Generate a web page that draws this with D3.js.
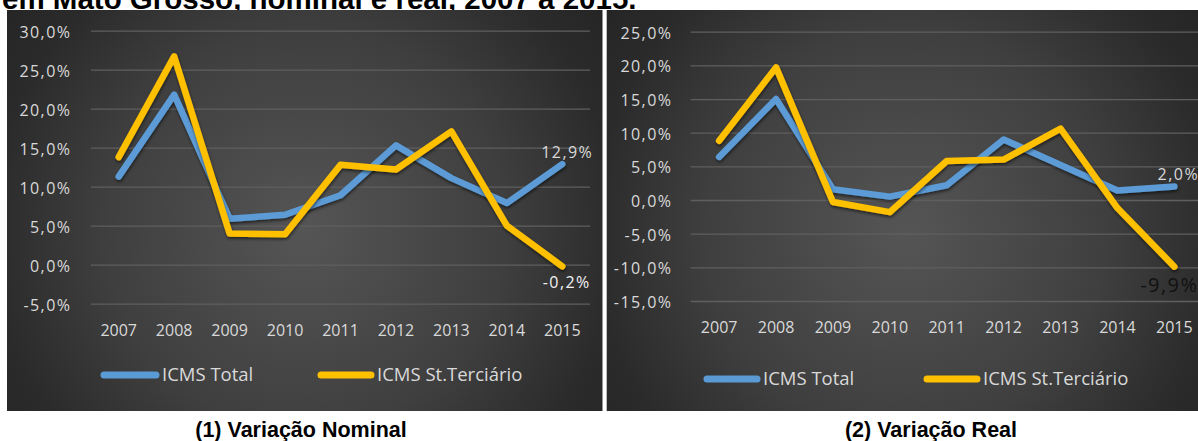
<!DOCTYPE html>
<html>
<head>
<meta charset="utf-8">
<script src="https://cdn.jsdelivr.net/npm/d3@7/dist/d3.min.js"></script>
<style>
  html, body { margin: 0; padding: 0; background: #ffffff; }
  svg { display: block; }
</style>
</head>
<body>
<svg id="chart" width="1198" height="441"></svg>
<script>
// ICMS growth rates (%), Mato Grosso, 2007–2015
const years = ["2007", "2008", "2009", "2010", "2011", "2012", "2013", "2014", "2015"];
const seriesNames = ["ICMS Total", "ICMS St.Terciário"];

const nominalTotal     = [11.3, 21.8, 5.9, 6.4, 8.9, 15.3, 11.1, 7.9, 12.9];
const nominalTerciario = [13.8, 26.7, 4.0, 3.9, 12.8, 12.2, 17.1, 5.0, -0.2];
const realTotal        = [6.4, 15.0, 1.6, 0.5, 2.2, 9.0, 5.2, 1.4, 2.0];
const realTerciario    = [8.8, 19.7, -0.3, -1.8, 5.8, 6.0, 10.6, -1.2, -9.9];

const nominalTicks = [-5, 0, 5, 10, 15, 20, 25, 30];
const realTicks    = [-15, -10, -5, 0, 5, 10, 15, 20, 25];

const titleText = "em Mato Grosso, nominal e real, 2007 a 2015.";
const captions  = ["(1) Variação Nominal", "(2) Variação Real"];

const seriesColors = ["#5B9BD5", "#FFC000"];

// Brazilian number format: comma decimal, plain hyphen for negatives
const ptBR = d3.formatLocale({ decimal: ",", thousands: ".", grouping: [3], currency: ["R$", ""], minus: "-" });
const pct = v => ptBR.format(".1f")(v) + "%";

const svg = d3.select("#chart");
const defs = svg.append("defs");

const shadow = defs.append("filter").attr("id", "lineShadow")
  .attr("x", "-10%").attr("y", "-10%").attr("width", "120%").attr("height", "130%");
shadow.append("feDropShadow")
  .attr("dx", 0.5).attr("dy", 2).attr("stdDeviation", 1.6)
  .attr("flood-color", "#000").attr("flood-opacity", 0.55);

// Panel layout
const panels = [
  {
    box: { x: 7, y: 10, w: 595.5, h: 401 },
    plot: { x0: 91, x1: 590, yBottom: 303.7, yTop: 30.7 },
    domain: [-5, 30], ticks: nominalTicks,
    series: [nominalTotal, nominalTerciario],
    yLabelX: 70, xLabelY: 336,
    legend: { y: 375, items: [{ x0: 104, x1: 156, tx: 162 }, { x0: 321, x1: 371, tx: 377 }] },
    labels: [
      { dx: 5, dy: -6.5, size: 16, color: "#d9d9d9" },
      { dx: 4.5, dy: 21.5, size: 16, color: "#f2f2f2" }
    ],
    caption: { x: 301, y: 437 }
  },
  {
    box: { x: 606.7, y: 10, w: 600, h: 401 },
    plot: { x0: 690.7, x1: 1202.8, yBottom: 301, yTop: 31.7 },
    domain: [-15, 25], ticks: realTicks,
    series: [realTotal, realTerciario],
    yLabelX: 671, xLabelY: 333,
    legend: { y: 379, items: [{ x0: 707, x1: 757, tx: 763 }, { x0: 927, x1: 977, tx: 983 }] },
    labels: [
      { dx: 4, dy: -6.5, size: 16, color: "#d9d9d9" },
      { dx: -5, dy: 25, size: 20, color: "#111111" }
    ],
    caption: { x: 931, y: 437 }
  }
];

// Partially visible heading above the panels
svg.append("text")
  .attr("x", 2).attr("y", 8.5)
  .attr("font-family", "'Liberation Sans', Arial, sans-serif")
  .attr("font-weight", "bold").attr("font-size", 29.5)
  .attr("fill", "#000")
  .text(titleText);

panels.forEach((p, pi) => {
  const cx = p.box.x + p.box.w / 2, cy = p.box.y + p.box.h * 0.55;
  const grad = defs.append("radialGradient").attr("id", "bg" + pi)
    .attr("gradientUnits", "userSpaceOnUse")
    .attr("cx", cx).attr("cy", cy).attr("r", 400);
  grad.append("stop").attr("offset", 0).attr("stop-color", "#555555");
  grad.append("stop").attr("offset", 0.5).attr("stop-color", "#3f3f3f");
  grad.append("stop").attr("offset", 0.78).attr("stop-color", "#2b2b2b");
  grad.append("stop").attr("offset", 1).attr("stop-color", "#222222");

  const g = svg.append("g");
  g.append("rect")
    .attr("x", p.box.x).attr("y", p.box.y)
    .attr("width", p.box.w).attr("height", p.box.h)
    .attr("fill", `url(#bg${pi})`);

  const x = d3.scaleBand().domain(years).range([p.plot.x0, p.plot.x1]).padding(0);
  const y = d3.scaleLinear().domain(p.domain).range([p.plot.yBottom, p.plot.yTop]);
  const px = yr => x(yr) + x.bandwidth() / 2;

  // Value axis with horizontal gridlines
  const yAxis = d3.axisLeft(y)
    .tickValues(p.ticks)
    .tickFormat(pct)
    .tickSizeInner(-(p.plot.x1 - p.plot.x0))
    .tickSizeOuter(0)
    .tickPadding(p.plot.x0 - p.yLabelX);
  const ya = g.append("g").attr("transform", `translate(${p.plot.x0},0)`).call(yAxis);
  ya.select(".domain").remove();
  ya.selectAll(".tick line").attr("stroke", "#5f5f5f").attr("stroke-width", 1.3);
  ya.selectAll(".tick text")
    .attr("fill", "#d9d9d9")
    .attr("font-family", "'Open Sans', sans-serif")
    .attr("font-size", 16)
    .attr("letter-spacing", 1.45)
    .attr("dx", 1.45)
    .attr("dy", 6.5)
    .attr("y", 0);

  // Category axis (years)
  const xAxis = d3.axisBottom(x).tickSize(0).tickPadding(0);
  const xa = g.append("g").attr("transform", `translate(0,${p.xLabelY})`).call(xAxis);
  xa.select(".domain").remove();
  xa.selectAll(".tick text")
    .attr("fill", "#d9d9d9")
    .attr("font-family", "'Open Sans', sans-serif")
    .attr("font-size", 16)
    .attr("dy", 0).attr("y", 0);

  // Series lines
  const line = d3.line().x((d, i) => px(years[i])).y(d => y(d));
  p.series.forEach((vals, si) => {
    g.append("path")
      .datum(vals)
      .attr("d", line)
      .attr("fill", "none")
      .attr("stroke", seriesColors[si])
      .attr("stroke-width", 6.5)
      .attr("stroke-linecap", "round")
      .attr("stroke-linejoin", "round")
      .attr("filter", "url(#lineShadow)");
  });

  // End-of-series value labels
  p.series.forEach((vals, si) => {
    const last = vals.length - 1;
    const L = p.labels[si];
    g.append("text")
      .attr("x", px(years[last]) + L.dx)
      .attr("y", y(vals[last]) + L.dy)
      .attr("text-anchor", "middle")
      .attr("font-family", "'Open Sans', sans-serif")
      .attr("font-size", L.size)
      .attr("letter-spacing", 1.45)
      .attr("fill", L.color)
      .text(pct(vals[last]));
  });

  // Legend
  p.legend.items.forEach((it, si) => {
    g.append("line")
      .attr("x1", it.x0).attr("x2", it.x1)
      .attr("y1", p.legend.y).attr("y2", p.legend.y)
      .attr("stroke", seriesColors[si])
      .attr("stroke-width", 7)
      .attr("stroke-linecap", "round");
    g.append("text")
      .attr("x", it.tx).attr("y", p.legend.y + 6)
      .attr("fill", "#d9d9d9")
      .attr("font-family", "'Open Sans', sans-serif")
      .attr("font-size", 18.5)
      .text(seriesNames[si]);
  });

  // Caption under the panel
  svg.append("text")
    .attr("x", p.caption.x).attr("y", p.caption.y)
    .attr("text-anchor", "middle")
    .attr("font-family", "'Liberation Sans', Arial, sans-serif")
    .attr("font-weight", "bold").attr("font-size", 21.5)
    .attr("fill", "#000")
    .text(captions[pi]);
});
</script>
</body>
</html>
